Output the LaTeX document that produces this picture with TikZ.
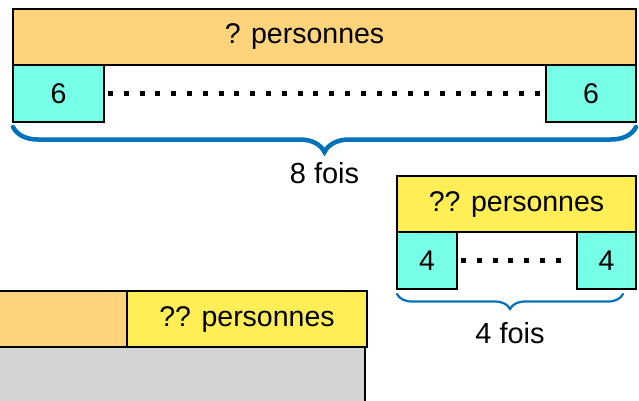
\documentclass[tikz,border=0pt]{standalone}
\usepackage{fontspec}
\setmainfont{Liberation Sans}
\usetikzlibrary{positioning,decorations.pathreplacing}
\definecolor{barorange}{HTML}{FDD37B}
\definecolor{baryellow}{HTML}{FFEE55}
\definecolor{unitcyan}{HTML}{78FFE8}
\definecolor{restgray}{HTML}{D4D4D4}
\definecolor{braceblue}{HTML}{0072BC}

\begin{document}
\begin{tikzpicture}[
  x=1pt, y=-1pt,
  bar/.style={draw, line width=2.5pt, inner sep=0pt, outer sep=0pt, minimum height=56pt, font=\fontsize{28.5}{32}\selectfont},
  orangebar/.style={bar, fill=barorange},
  yellowbar/.style={bar, fill=baryellow},
  unit/.style={bar, fill=unitcyan, minimum height=57pt},
  dots/.style={line width=5pt, dash pattern=on 5pt off 10.8pt},
  bigbrace/.style={draw=braceblue, line width=4.5pt, line cap=round, decorate, decoration={brace, mirror, amplitude=25pt}},
  smallbrace/.style={draw=braceblue, line width=2.2pt, line cap=round, decorate, decoration={brace, mirror, amplitude=15pt}},
  lbl/.style={font=\fontsize{29}{32}\selectfont}
]
\clip (0,0) rectangle (639,400);
% 8 groups of 6
\node[orangebar, minimum width=623pt] (total) at (324.5,37) {? personnes\kern40pt};
\node[unit, minimum width=91pt, below right=0pt of total.south west] (sixA) {6};
\node[unit, minimum width=90pt, below left=0pt of total.south east] (sixB) {6};
\draw[dots, shorten <=4pt, shorten >=4pt] (sixA.east) -- (sixB.west);
\draw[bigbrace] ([yshift=-5pt]sixA.south west) -- ([yshift=-5pt]sixB.south east)
  node[lbl, midway, yshift=-46pt] (eight) {8 fois};
% 4 groups of 4
\node[yellowbar, minimum width=239pt] (part) at (516.5,204) {?? personnes};
\node[unit, minimum width=60pt, below right=0pt of part.south west] (fourA) {4};
\node[unit, minimum width=59pt, below left=0pt of part.south east] (fourB) {4};
\draw[dots, shorten <=4pt, shorten >=14pt] (fourA.east) -- (fourB.west);
\draw[smallbrace] ([yshift=-5pt]fourA.south west) -- ([xshift=-13pt, yshift=-5pt]fourB.south east)
  node[lbl, midway, yshift=-39pt] (four) {4 fois};
% rest
\node[orangebar, minimum width=137pt] (restA) at (58.5,319) {};
\node[yellowbar, minimum width=240pt, right=0pt of restA] (restB) {?? personnes};
\node[bar, fill=restgray, minimum width=375pt, minimum height=73pt, below right=0pt of restA.south west] (restC) {};
\end{tikzpicture}
\end{document}
